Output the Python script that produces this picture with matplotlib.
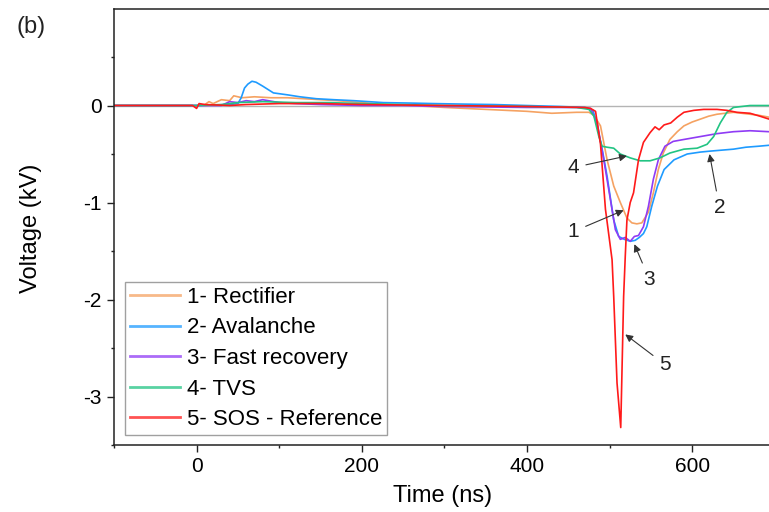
import matplotlib
matplotlib.use('Agg')
import matplotlib.pyplot as plt
from matplotlib.ticker import MultipleLocator

plt.rcParams['font.family'] = ['Liberation Sans', 'DejaVu Sans']
plt.rcParams['axes.unicode_minus'] = False

# ---------------- data ----------------
labels = ["1- Rectifier", "2- Avalanche", "3- Fast recovery", "4- TVS", "5- SOS - Reference"]
colors = ["#F5A262", "#1E9BFF", "#8F3BF5", "#22C483", "#FF1A1A"]

t_rect = [-100, -50, 0, 10, 15, 20, 30, 40, 45, 55, 70, 90, 110, 130, 150, 170, 200, 230, 260, 300,
          350, 400, 430, 460, 475, 481, 489, 497, 505, 513, 521, 527, 533, 539, 547, 553, 559, 565,
          573, 582, 590, 600, 610, 620, 630, 640, 650, 660, 670, 680, 693]
v_rect = [0, 0, 0, 0.01, 0.04, 0.02, 0.06, 0.05, 0.10, 0.08, 0.09, 0.08, 0.08, 0.07, 0.06, 0.05, 0.03,
          0.01, 0, -0.02, -0.04, -0.06, -0.08, -0.07, -0.07, -0.10, -0.21, -0.56, -0.83, -1.00, -1.16,
          -1.21, -1.22, -1.21, -1.10, -0.90, -0.66, -0.49, -0.35, -0.27, -0.21, -0.17, -0.14, -0.11,
          -0.09, -0.08, -0.07, -0.08, -0.09, -0.10, -0.12]

t_aval = [-100, -50, 0, 20, 40, 50, 54, 58, 62, 67, 72, 80, 93, 110, 125, 145, 166, 190, 226, 260,
          287, 320, 360, 400, 440, 470, 480, 485, 491, 497, 505, 511, 518, 525, 531, 536, 541, 545,
          551, 558, 566, 578, 594, 610, 622, 636, 650, 665, 680, 693]
v_aval = [0, 0, 0, 0.005, 0.01, 0.02, 0.08, 0.18, 0.22, 0.25, 0.24, 0.20, 0.13, 0.11, 0.09, 0.07,
          0.06, 0.05, 0.03, 0.025, 0.02, 0.015, 0.01, 0.0, -0.01, -0.02, -0.05, -0.21, -0.45, -0.73,
          -1.18, -1.35, -1.38, -1.40, -1.39, -1.36, -1.32, -1.25, -1.04, -0.83, -0.66, -0.56, -0.50,
          -0.48, -0.47, -0.46, -0.45, -0.43, -0.42, -0.41]

t_fast = [-100, -50, 0, 30, 40, 50, 60, 70, 80, 100, 120, 150, 200, 250, 300, 400, 460, 477, 485,
          493, 501, 507, 513, 519, 525, 530, 535, 541, 547, 553, 559, 567, 577, 590, 610, 630, 650,
          670, 693]
v_fast = [0, 0, 0, 0, 0.04, 0.03, 0.05, 0.04, 0.06, 0.03, 0.02, 0.01, 0.0, 0.0, -0.01, -0.02, -0.02,
          -0.03, -0.18, -0.56, -0.97, -1.28, -1.38, -1.36, -1.40, -1.35, -1.34, -1.25, -1.04, -0.76,
          -0.56, -0.42, -0.37, -0.35, -0.32, -0.29, -0.27, -0.26, -0.27]

t_tvs = [-100, -50, 0, 30, 50, 80, 120, 160, 200, 250, 300, 400, 460, 475, 481, 487, 491, 497, 505,
         513, 525, 537, 549, 561, 573, 590, 606, 618, 626, 634, 642, 650, 670, 693]
v_tvs = [0, 0, 0, 0.01, 0.03, 0.04, 0.03, 0.03, 0.02, 0.01, 0.0, -0.01, -0.02, -0.04, -0.11, -0.32,
         -0.42, -0.43, -0.44, -0.50, -0.54, -0.57, -0.57, -0.54, -0.49, -0.45, -0.44, -0.40, -0.32,
         -0.18, -0.07, -0.02, 0.0, 0.0]

t_sos = [-100, -50, -5, 0, 3, 10, 40, 60, 100, 150, 200, 300, 400, 470, 477, 483, 489, 495, 503,
         505, 509, 513.5, 514.7, 517, 519, 521, 525, 529, 535, 541, 549, 555, 560, 566, 574, 582,
         590, 602, 614, 630, 642, 654, 670, 682, 693]
v_sos = [0, 0, 0, -0.03, 0.02, 0.01, 0.0, 0.01, 0.02, 0.02, 0.01, 0.0, -0.01, -0.02, -0.03, -0.06,
         -0.40, -1.07, -1.59, -1.97, -2.86, -3.32, -2.86, -1.97, -1.55, -1.18, -1.00, -0.90, -0.56,
         -0.38, -0.28, -0.22, -0.25, -0.20, -0.18, -0.12, -0.07, -0.05, -0.04, -0.04, -0.05, -0.07,
         -0.08, -0.11, -0.14]

series_t = [t_rect, t_aval, t_fast, t_tvs, t_sos]
series_v = [v_rect, v_aval, v_fast, v_tvs, v_sos]

# annotations: label, text position (t, V), arrow tip (t, V)
ann_labels = ["1", "2", "3", "4", "5"]
ann_text = [(456, -1.30), (633, -1.05), (548, -1.79), (456, -0.64), (567, -2.67)]
ann_tip = [(517, -1.08), (621, -0.50), (530, -1.43), (521, -0.52), (519, -2.36)]

# ---------------- figure ----------------
fig = plt.figure(figsize=(7.69, 5.12), dpi=100)
ax = fig.add_axes([114 / 769, 67 / 512, 655 / 769, 436 / 512])

ax.axhline(0, color="#b4b4b4", lw=1.0, zorder=1)
for t, v, c, lab in zip(series_t, series_v, colors, labels):
    ax.plot(t, v, color=c, lw=1.2, label=lab, zorder=2)

ax.set_xlim(-100, 693)
ax.set_ylim(-3.5, 0.995)
ax.xaxis.set_major_locator(MultipleLocator(200))
ax.xaxis.set_minor_locator(MultipleLocator(100))
ax.yaxis.set_major_locator(MultipleLocator(1))
ax.yaxis.set_minor_locator(MultipleLocator(0.5))
ax.spines['right'].set_visible(False)
for s in ['left', 'bottom', 'top']:
    ax.spines[s].set_linewidth(1.1)
    ax.spines[s].set_color('#222222')
ax.tick_params(which='major', direction='out', length=5, width=1.0, labelsize=15, pad=4,
               color='#222222', top=False, right=False)
ax.tick_params(which='minor', direction='out', length=2.5, width=1.0, color='#222222',
               top=False, right=False)

ax.set_xlabel("Time (ns)", fontsize=17)
ax.set_ylabel("Voltage (kV)", fontsize=17)
ax.xaxis.set_label_coords(0.502, -0.092)
ax.yaxis.set_label_coords(-0.110, 0.498)

for lab, (tx, ty), (px, py) in zip(ann_labels, ann_text, ann_tip):
    ax.annotate(lab, xy=(px, py), xytext=(tx, ty), fontsize=15, ha='center', va='center',
                color='#222222',
                arrowprops=dict(arrowstyle='-|>', color='#333333', lw=0.8,
                                mutation_scale=11, shrinkA=3, shrinkB=0))

leg = ax.legend(loc='upper left', bbox_to_anchor=((125 - 114) / 655, (445 - 282) / 436),
                borderaxespad=0, fontsize=16, frameon=True, fancybox=False,
                handlelength=2.25, handletextpad=0.3, labelspacing=0.43, borderpad=0.22)
leg.get_frame().set_edgecolor('#888888')
leg.get_frame().set_linewidth(1.0)
for h in leg.get_lines():
    h.set_linewidth(2.0)
    h.set_alpha(0.75)

fig.text(17 / 769, 1 - 27 / 512, "(b)", fontsize=17, ha='left', va='center', color='#222222')

fig.savefig("out.png", dpi=100)
